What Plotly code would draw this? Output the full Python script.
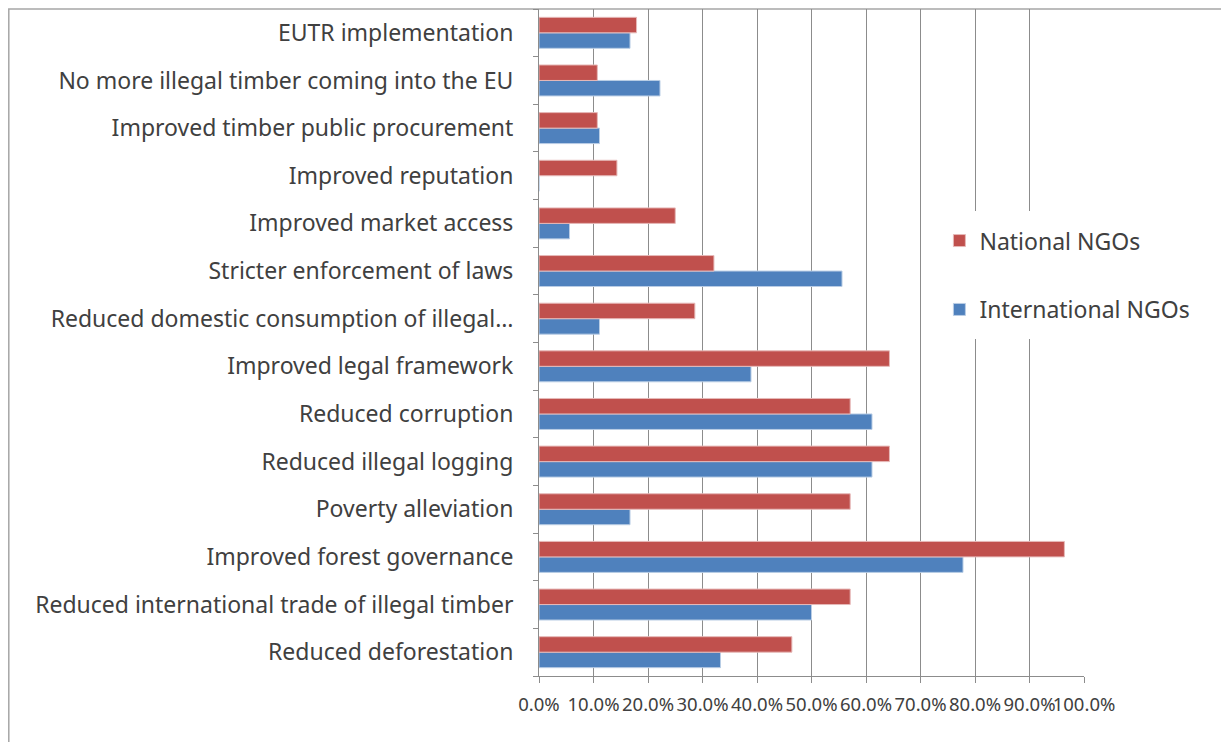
import plotly.graph_objects as go

# categories listed bottom -> top (as plotted)
categories = [
    "Reduced deforestation",
    "Reduced international trade of illegal timber",
    "Improved forest governance",
    "Poverty alleviation",
    "Reduced illegal logging",
    "Reduced corruption",
    "Improved legal framework",
    "Reduced domestic consumption of illegal…",
    "Stricter enforcement of laws",
    "Improved market access",
    "Improved reputation",
    "Improved timber public procurement",
    "No more illegal timber coming into the EU",
    "EUTR implementation",
]

# shares in percent
international_ngos = [33.3, 50.0, 77.8, 16.7, 61.1, 61.1, 38.9, 11.1, 55.6, 5.6, 0.0, 11.1, 22.2, 16.7]
national_ngos = [46.4, 57.1, 96.4, 57.1, 64.3, 57.1, 64.3, 28.6, 32.1, 25.0, 14.3, 10.7, 10.7, 17.9]

x_ticks = [0, 10, 20, 30, 40, 50, 60, 70, 80, 90, 100]
x_tick_labels = [f"{v:.1f}%" for v in x_ticks]

TEXT = "#404040"
GRID = "#8C8C8C"
FONT = "Noto Sans"

fig = go.Figure()
fig.add_trace(go.Bar(
    y=categories, x=international_ngos, orientation="h",
    name="International NGOs", legendgroup="intl", legendrank=2,
    marker=dict(color="#4F81BD", line=dict(color="#B9CDE5", width=1)),
))
fig.add_trace(go.Bar(
    y=categories, x=national_ngos, orientation="h",
    name="National NGOs", legendgroup="nat", legendrank=1,
    marker=dict(color="#C0504D", line=dict(color="#E6B9B8", width=1)),
))

# page body adds an 8px offset, so the figure is sized to what is left
fig.update_layout(
    width=1221, height=734,
    margin=dict(l=531, r=145, t=1, b=66),
    paper_bgcolor="white", plot_bgcolor="white",
    barmode="group", bargap=0.35, bargroupgap=0,
    font=dict(family=FONT, color=TEXT),
    legend=dict(
        x=0.72, y=0.697, xanchor="left", yanchor="top",
        bgcolor="white", bordercolor="white", borderwidth=8,
        font=dict(size=23, color=TEXT),
        traceorder="grouped", tracegroupgap=36,
        itemwidth=30,
    ),
    xaxis=dict(
        range=[0, 100], tickvals=x_ticks, ticktext=x_tick_labels,
        tickangle=0, ticklabelstandoff=6,
        showgrid=True, gridcolor=GRID, gridwidth=1,
        showline=True, linecolor=GRID, linewidth=1,
        ticks="outside", ticklen=6, tickcolor=GRID,
        tickfont=dict(size=18.5, color=TEXT), zeroline=False,
    ),
    yaxis=dict(
        type="category", categoryorder="array", categoryarray=categories,
        showline=True, linecolor=GRID, linewidth=1,
        ticks="outside", ticklen=5, tickcolor=GRID, tickson="boundaries",
        tickfont=dict(size=23, color=TEXT), ticklabelstandoff=20,
        showgrid=False,
    ),
)

# outer chart border (cropped on the right and bottom)
fig.add_shape(
    type="rect", xref="paper", yref="paper",
    x0=(0.8 - 531) / 545, x1=(1240 - 531) / 545,
    y0=-(760 - 668) / 667, y1=1.0,
    line=dict(color="#A6A6A6", width=1.5), fillcolor="rgba(0,0,0,0)",
    layer="below",
)

fig.write_html("out.html")
